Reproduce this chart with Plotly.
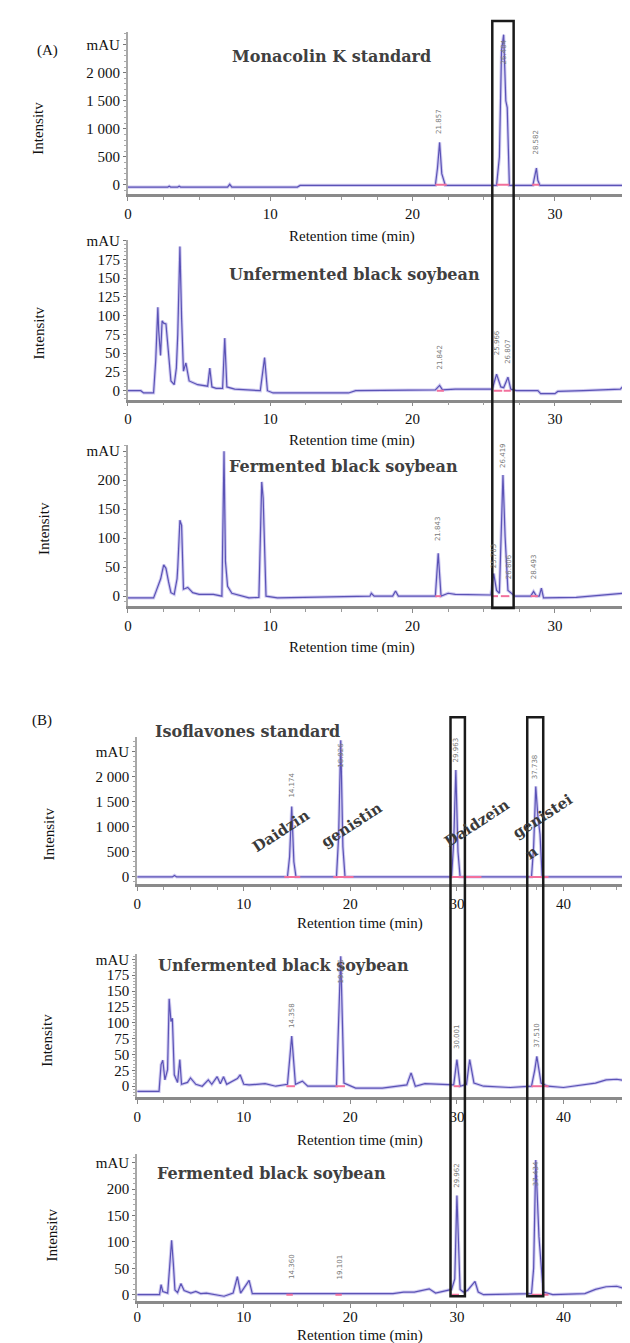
import plotly.graph_objects as go

W, H = 630, 1343

# ---------------- data ----------------
# Panel A1: Monacolin K standard
a1_time = [0, 2.8, 2.9, 3.0, 3.5, 3.6, 3.7, 7.0, 7.15, 7.3, 11.9, 12.1, 21.6, 21.75, 21.9,
           22.05, 22.3, 25.9, 26.1, 26.25, 26.4, 26.55, 26.65, 26.8, 28.45, 28.6, 28.7,
           28.8, 28.95, 35.35]
a1_mau = [-40, -40, -25, -40, -40, -25, -40, -40, 10, -40, -40, -10, -10, 300, 757,
          200, -10, -10, 500, 2400, 2680, 1500, 1380, -10, -10, 150, 300,
          80, -10, -10]

# Panel A2: Unfermented black soybean (monacolin K method)
a2_time = [0, 0.9, 1.1, 1.8, 1.95, 2.1, 2.16, 2.29, 2.4, 2.51, 2.67, 2.85, 3.02, 3.25,
           3.4, 3.5, 3.65, 3.77, 3.9, 4.07, 4.2, 4.3, 4.9, 5.6, 5.75, 5.9, 6.2, 6.65,
           6.8, 6.95, 7.5, 9.3, 9.6, 9.8, 10.2, 12.0, 15.5, 16.0, 21.6, 21.9, 22.1, 23.0,
           25.6, 25.9, 26.2, 26.4, 26.7, 26.9, 27.3, 28.8, 29.0, 30.0, 30.2, 32.0, 34.6,
           34.9, 35.35]
a2_mau = [0, 0, -3, -3, 40, 111, 80, 47, 93, 90, 89, 50, 13, 8,
          30, 75, 192, 97, 26, 37, 20, 13, 8, 6, 30, 5, 3, 3,
          70, 5, 2, 0, 44, 0, -3, -3, -3, 0, 1, 7, 1, 2,
          2, 22, 5, 4, 18, 2, 0, 0, -4, -4, -1, 0, 2,
          8, 3]

# Panel A3: Fermented black soybean (monacolin K method)
a3_time = [0, 1.8, 2.0, 2.1, 2.3, 2.51, 2.67, 2.85, 3.02, 3.25, 3.45, 3.5, 3.65, 3.77,
           3.9, 4.2, 4.55, 5.0, 6.0, 6.6, 6.75, 6.85, 7.0, 7.3, 8.5, 9.2, 9.4, 9.5, 9.7,
           10.5, 17.0, 17.1, 17.3, 18.6, 18.8, 19.0, 21.6, 21.8, 22.0, 22.5, 23.0, 25.5,
           25.7, 25.9, 26.1, 26.35, 26.5, 26.7, 27.2, 28.3, 28.5, 28.7, 28.9, 29.05,
           29.2, 31.5, 33.5, 34.8, 35.35]
a3_mau = [-3, -3, 10, 17, 30, 54, 48, 25, 6, 3, 30, 50, 131, 122,
          12, 15, 6, 3, 3, 0, 250, 60, 17, 5, -3, -2, 197, 169, 0,
          -3, 0, 5, 0, 0, 9, 0, 0, 74, 0, 5, 3, 2,
          39, 10, 5, 209, 103, 10, 0, 0, 8, 0, 0, 14,
          -3, -2, 3, 5, 2]

# Panel B1: Isoflavones standard
b1_time = [0, 3.3, 3.5, 3.7, 14.1, 14.3, 14.5, 14.7, 14.9, 18.7, 18.9, 19.1, 19.3, 19.5,
           29.5, 29.7, 29.9, 30.1, 30.3, 37.0, 37.2, 37.4, 37.6, 37.8, 38.0, 46.9]
b1_mau = [0, 0, 30, 0, 0, 400, 1400, 300, 0, 0, 800, 2720, 600, 0,
          0, 700, 2128, 500, 0, 0, 600, 1800, 1200, 850, 0, 0]

# Panel B2: Unfermented black soybean (isoflavone method)
b2_time = [0, 2.05, 2.24, 2.4, 2.6, 2.85, 3.0, 3.17, 3.3, 3.48, 3.79, 4.0, 4.16, 4.72,
           5.0, 5.5, 6.1, 6.67, 7.0, 7.5, 7.8, 8.1, 8.4, 9.4, 9.66, 10.0, 10.5, 12.0,
           13.0, 14.1, 14.5, 14.85, 15.5, 16.0, 18.7, 19.1, 19.4, 20.0, 20.5, 23.0,
           25.3, 25.7, 26.1, 27.0, 28.0, 29.7, 30.0, 30.3, 30.9, 31.2, 31.6, 32.5,
           35.0, 37.0, 37.3, 37.5, 37.9, 38.5, 40.0, 42.0, 43.0, 44.0, 45.0, 46.0,
           46.5, 46.9]
b2_mau = [-8, -8, 34, 41, 10, 26, 138, 102, 107, 18, 6, 42, 3, 6,
          13, 3, 0, 10, 3, 15, 4, 15, 3, 12, 18, 3, 2, 4,
          0, 3, 79, 3, 8, 0, 0, 205, 5, 0, -3, -3,
          2, 21, 0, 4, 3, 2, 42, 0, 3, 42, 5, 0,
          -2, 0, 25, 47, 5, 0, -2, 2, 5, 10, 11, 8,
          0, -5]

# Panel B3: Fermented black soybean (isoflavone method)
b3_time = [0, 2.1, 2.24, 2.4, 2.86, 3.1, 3.23, 3.39, 3.54, 3.79, 4.1, 4.4, 5.03, 5.5,
           5.96, 6.5, 8.15, 9.0, 9.4, 9.7, 10.5, 10.8, 14.0, 19.0, 24.0, 25.0, 26.0,
           27.4, 28.0, 29.5, 29.8, 30.0, 30.3, 30.6, 31.0, 31.7, 32.0, 32.5, 37.0,
           37.2, 37.4, 37.7, 38.1, 39.0, 42.0, 43.0, 44.0, 45.0, 46.0, 46.9]
b3_mau = [0, 0, 19, 6, 3, 59, 103, 59, 9, 4, 21, 8, 3, 6,
          2, 3, -3, 3, 34, 3, 27, 2, 2, 3, 2, 5, 5,
          11, 3, 10, 30, 188, 10, 5, 8, 25, 5, 0, 2,
          50, 255, 110, 5, 0, 2, 10, 15, 16, 10, 0]

# integration baselines (start, end) in min
a1_marks = [(21.6, 22.4), (25.9, 26.8), (28.4, 28.9)]
a2_marks = [(21.7, 22.2), (25.7, 26.3), (26.4, 26.9)]
a3_marks = [(21.6, 22.0), (25.5, 26.0), (26.2, 26.8), (28.3, 28.8)]
b1_marks = [(13.8, 15.3), (18.4, 20.3), (29.3, 32.3), (36.8, 38.6)]
b2_marks = [(14.0, 14.8), (18.6, 19.5), (29.7, 30.3), (37.0, 38.6)]
b3_marks = [(14.0, 14.6), (18.6, 19.2), (29.5, 30.2), (37.0, 38.6)]

# peak retention-time labels: (text, time, intensity of label centre)
a1_peaks = [("21.857", 21.9, 1135), ("26.404", 26.4, 2376), ("28.582", 28.7, 762)]
a2_peaks = [("21.842", 21.9, 45), ("25.966", 25.9, 64), ("26.807", 26.7, 53)]
a3_peaks = [("21.843", 21.8, 116), ("25.703", 25.7, 70), ("26.419", 26.4, 243),
            ("26.806", 26.75, 51), ("28.493", 28.5, 51)]
b1_peaks = [("14.174", 14.5, 1832), ("18.926", 19.1, 2425), ("29.963", 29.9, 2534),
            ("37.738", 37.4, 2198)]
b2_peaks = [("14.358", 14.5, 112), ("19.125", 19.1, 182), ("30.001", 30.0, 79),
            ("37.510", 37.5, 81)]
b3_peaks = [("14.360", 14.5, 54), ("19.101", 19.0, 53), ("29.962", 30.0, 227),
            ("37.434", 37.45, 229)]

# tick labels
big_vals = [0, 500, 1000, 1500, 2000, 2500]
big_text = ["0", "500", "1 000", "1 500", "2 000", "mAU"]
mid_vals = [0, 25, 50, 75, 100, 125, 150, 175, 200]
mid_text = ["0", "25", "50", "75", "100", "125", "150", "175", "mAU"]
small_vals = [0, 50, 100, 150, 200, 250]
small_text = ["0", "50", "100", "150", "200", "mAU"]
a_xticks = [0, 10, 20, 30]
b_xticks = [0, 10, 20, 30, 40]

titles = ["Monacolin K standard", "Unfermented black soybean", "Fermented black soybean",
          "Isoflavones standard", "Unfermented black soybean", "Fermented black soybean"]
b1_compounds = ["Daidzin", "genistin", "Daidzein", "genistei", "n"]
a_box = (25.6, 27.1)
b_boxes = [(29.4, 30.75), (36.6, 38.1)]

# ---------------- layout geometry (pixels) ----------------
panels = [
    dict(t=a1_time, y=a1_mau, m=a1_marks, p=a1_peaks, l=116.7, r=623, top=17, bot=180,
         yr=[-160, 2730], xr=[0, 35.35], tv=big_vals, tt=big_text, xt=a_xticks, ym=100,
         title=(321.5, 41.7), rt=(342.5, 222.7), it=(26.7, 114), so=0),
    dict(t=a2_time, y=a2_mau, m=a2_marks, p=a2_peaks, l=116.7, r=623, top=226.7, bot=387.3,
         yr=[-12, 200.5], xr=[0, 35.35], tv=mid_vals, tt=mid_text, xt=a_xticks, ym=5,
         title=(345, 261.7), rt=(342.5, 428.3), it=(26.7, 320), so=0),
    dict(t=a3_time, y=a3_mau, m=a3_marks, p=a3_peaks, l=116.7, r=623, top=433.3, bot=595,
         yr=[-17, 260], xr=[0, 35.35], tv=small_vals, tt=small_text, xt=a_xticks, ym=10,
         title=(333.6, 455), rt=(342.5, 637), it=(31.7, 517), so=0),
    dict(t=b1_time, y=b1_mau, m=b1_marks, p=b1_peaks, l=126, r=629, top=726.7, bot=875,
         yr=[-144, 2787], xr=[0, 46.9], tv=big_vals, tt=big_text, xt=b_xticks, ym=100,
         title=(237, 721.7), rt=(350.6, 915), it=(37.3, 825), so=0),
    dict(t=b2_time, y=b2_mau, m=b2_marks, p=b2_peaks, l=126, r=629, top=945, bot=1089.3,
         yr=[-17, 209], xr=[0, 46.9], tv=mid_vals, tt=mid_text, xt=b_xticks, ym=5,
         title=(273.3, 956.7), rt=(350.6, 1133.3), it=(35, 1032), so=0),
    dict(t=b3_time, y=b3_mau, m=b3_marks, p=b3_peaks, l=126, r=629, top=1147, bot=1295,
         yr=[-12.6, 266], xr=[0, 46.9], tv=small_vals, tt=small_text, xt=b_xticks, ym=10,
         title=(261, 1166.7), rt=(350.6, 1329), it=(40, 1228), so=-4),
]

SERIF = "Liberation Serif, Times New Roman, serif"
BOLD = "DejaVu Serif, serif"

fig = go.Figure()
annotations = []
shapes = []


def px(x):
    return x / W


def py(y):
    return 1 - y / H


for i, p in enumerate(panels, start=1):
    xa = "x" if i == 1 else f"x{i}"
    ya = "y" if i == 1 else f"y{i}"
    # blurred halo + main line
    fig.add_trace(go.Scatter(x=p["t"], y=p["y"], mode="lines", xaxis=xa, yaxis=ya,
                             line=dict(color="rgba(150,140,225,0.45)", width=3.2),
                             hoverinfo="skip", showlegend=False))
    fig.add_trace(go.Scatter(x=p["t"], y=p["y"], mode="lines", xaxis=xa, yaxis=ya,
                             line=dict(color="#5b53b6", width=1.2), showlegend=False))
    # integration marks
    mx, my = [], []
    for s, e in p["m"]:
        mx += [s, e, None]
        my += [0, 0, None]
    fig.add_trace(go.Scatter(x=mx, y=my, mode="lines", xaxis=xa, yaxis=ya,
                             line=dict(color="#f2709c", width=2), hoverinfo="skip",
                             showlegend=False))
    xkey = "xaxis" if i == 1 else f"xaxis{i}"
    ykey = "yaxis" if i == 1 else f"yaxis{i}"
    fig.update_layout(**{
        xkey: dict(domain=[px(p["l"]), px(p["r"])], range=p["xr"], anchor=ya,
                   showgrid=False, zeroline=False, showline=True, linecolor="#8a8a8a",
                   linewidth=2.5, ticks="outside", ticklen=4, tickcolor="#8a8a8a",
                   ticklabelstandoff=p["so"],
                   tickvals=p["xt"], tickfont=dict(family=SERIF, size=15, color="#111"),
                   minor=dict(dtick=2.5, ticks="outside", ticklen=3, tickcolor="#9a9a9a",
                              showgrid=False)),
        ykey: dict(domain=[py(p["bot"]), py(p["top"])], range=p["yr"], anchor=xa,
                   showgrid=False, zeroline=False, showline=True, linecolor="#a8a8a8",
                   linewidth=2, ticks="outside", ticklen=3, tickcolor="#777",
                   tickvals=p["tv"], ticktext=p["tt"],
                   tickfont=dict(family=SERIF, size=15, color="#111"),
                   minor=dict(dtick=p["ym"], ticks="outside", ticklen=2,
                              tickcolor="#aaa", showgrid=False)),
    })
    # panel title
    annotations.append(dict(text=titles[i - 1], x=px(p["title"][0]), y=py(p["title"][1]),
                            xref="paper", yref="paper", showarrow=False,
                            xanchor="center", yanchor="middle",
                            font=dict(family=BOLD, size=16, color="#404040", weight="bold")))
    # axis titles
    annotations.append(dict(text="Retention time (min)", x=px(p["rt"][0]), y=py(p["rt"][1]),
                            xref="paper", yref="paper", showarrow=False,
                            xanchor="center", yanchor="middle",
                            font=dict(family=SERIF, size=15, color="#111")))
    annotations.append(dict(text="Intensitv", x=px(p["it"][0]), y=py(p["it"][1]),
                            xref="paper", yref="paper", showarrow=False, textangle=-90,
                            xanchor="center", yanchor="middle",
                            font=dict(family=SERIF, size=15, color="#111")))
    # peak labels
    for txt, t, v in p["p"]:
        annotations.append(dict(text=txt, x=t, y=v, xref=xa, yref=ya, showarrow=False,
                                textangle=-90, xanchor="center", yanchor="middle",
                                font=dict(family="DejaVu Sans", size=7, color="#7a7a7a")))

# panel letters
annotations.append(dict(text="(A)", x=px(23.3), y=py(25), xref="paper", yref="paper",
                        showarrow=False, font=dict(family=SERIF, size=15, color="#111")))
annotations.append(dict(text="(B)", x=px(18.3), y=py(710), xref="paper", yref="paper",
                        showarrow=False, font=dict(family=SERIF, size=15, color="#111")))

# rotated compound names in B1
comp_pos = [(271, 821.7), (341.6, 815), (468.2, 813.3), (534.6, 806.7), (522.5, 843.3)]
for name, (cx, cy) in zip(b1_compounds, comp_pos):
    annotations.append(dict(text=name, x=px(cx), y=py(cy), xref="paper", yref="paper",
                            showarrow=False, textangle=-33, xanchor="center",
                            yanchor="middle",
                            font=dict(family=BOLD, size=15, color="#3a3a3a", weight="bold")))

# highlight boxes
shapes.append(dict(type="rect", xref="x", yref="paper", x0=a_box[0], x1=a_box[1],
                   y0=py(597), y1=py(6), line=dict(color="#1a1a1a", width=2.5)))
for b0, b1 in b_boxes:
    shapes.append(dict(type="rect", xref="x4", yref="paper", x0=b0, x1=b1,
                       y0=py(1290), y1=py(707), line=dict(color="#1a1a1a", width=2.5)))

fig.update_layout(width=W, height=H, margin=dict(l=0, r=0, t=0, b=0),
                  paper_bgcolor="white", plot_bgcolor="white", showlegend=False,
                  annotations=annotations, shapes=shapes)

fig.write_html("out.html")
